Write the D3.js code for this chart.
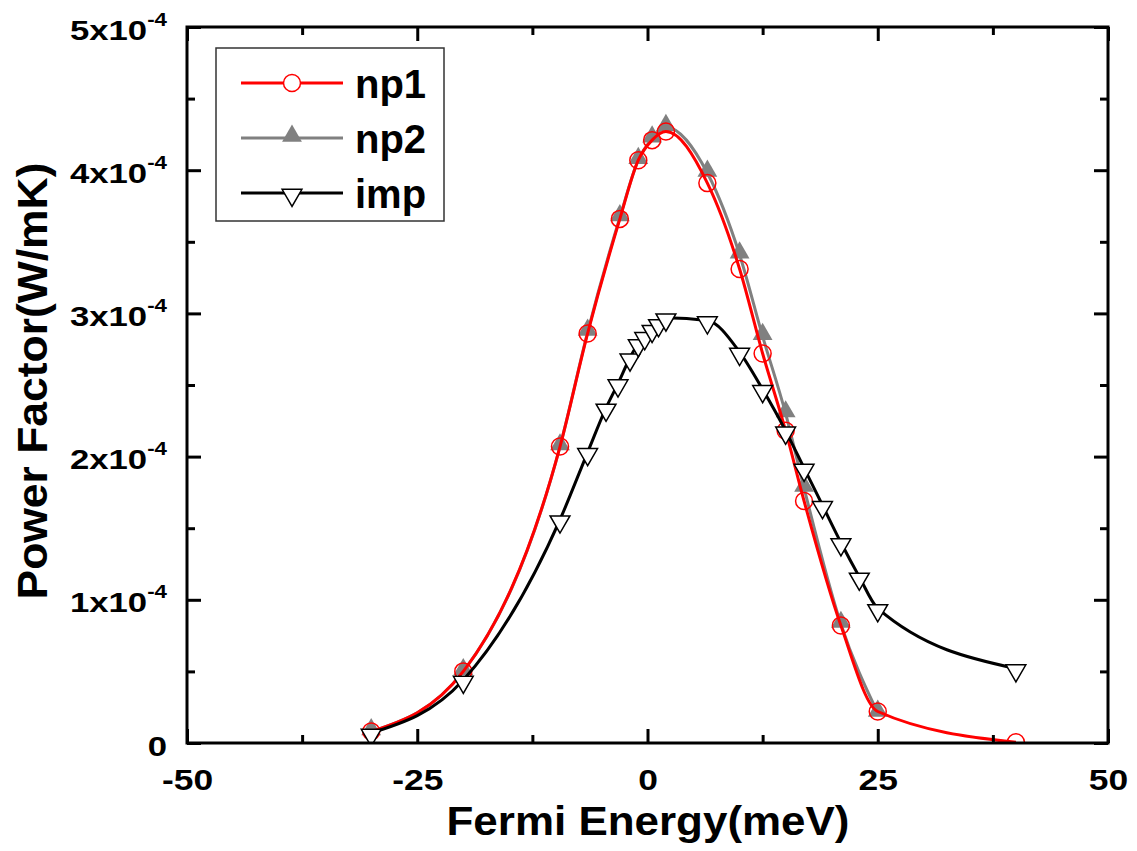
<!DOCTYPE html>
<html>
<head>
<meta charset="utf-8">
<script src="https://cdn.jsdelivr.net/npm/d3@7"></script>
<style>
  body { margin: 0; background: #fff; }
  text { font-family: Arial, "Liberation Sans", sans-serif; font-weight: bold; fill: #000; }
</style>
</head>
<body>
<div class="chart"></div>
<script>
"use strict"
// data (x in meV, y in W/mK)
const np1X = [-30, -20, -9.5, -6.5, -3, -1, 0.5, 2, 6.5, 10, 12.5, 15, 17, 21, 25, 40];
const np1Y = [0.08e-4, 0.5e-4, 2.07e-4, 2.86e-4, 3.66e-4, 4.07e-4, 4.21e-4, 4.27e-4, 3.91e-4, 3.31e-4, 2.72e-4, 2.18e-4, 1.69e-4, 0.82e-4, 0.22e-4, 0.005e-4];
const np2X = [-30, -20, -9.5, -6.5, -3, -1, 0.5, 2, 6.5, 10, 12.5, 15, 17, 21, 25];
const np2Y = [0.08e-4, 0.5e-4, 2.07e-4, 2.87e-4, 3.67e-4, 4.07e-4, 4.22e-4, 4.30e-4, 3.98e-4, 3.41e-4, 2.84e-4, 2.30e-4, 1.78e-4, 0.83e-4, 0.21e-4];
const impX = [-30, -20, -9.5, -6.5, -4.5, -3.2, -1.9, -1, -0.3, 0.5, 1.2, 2, 6.5, 10, 12.5, 15, 17, 19, 21, 23, 25, 40];
const impY = [0.07e-4, 0.44e-4, 1.56e-4, 2.03e-4, 2.34e-4, 2.51e-4, 2.69e-4, 2.79e-4, 2.84e-4, 2.89e-4, 2.93e-4, 2.97e-4, 2.95e-4, 2.73e-4, 2.47e-4, 2.18e-4, 1.92e-4, 1.66e-4, 1.40e-4, 1.16e-4, 0.94e-4, 0.52e-4];
const xTicks = [-50, -25, 0, 25, 50];
const xMinor = [-37.5, -12.5, 12.5, 37.5];
const yTicks = [0, 1, 2, 3, 4, 5];
const yMinor = [0.5, 1.5, 2.5, 3.5, 4.5];
const seriesNames = ["np1", "np2", "imp"];

const W = 1137, H = 851;
const m = { left: 187, right: 29, top: 27, bottom: 108 };

let svg = d3.select(".chart").append("svg")
  .attr("width", W).attr("height", H);

let x = d3.scaleLinear().domain([-50, 50]).range([m.left, W - m.right]);
let y = d3.scaleLinear().domain([0, 5e-4]).range([H - m.bottom, m.top]);

// widen text a bit, the original fonts run wider than Arial
function stretch(t, k) {
  t.each(function () {
    let w = this.getComputedTextLength();
    d3.select(this).attr("textLength", w * k).attr("lengthAdjust", "spacingAndGlyphs");
  });
}

svg.append("clipPath").attr("id", "clip")
  .append("rect")
  .attr("x", m.left).attr("y", m.top)
  .attr("width", W - m.left - m.right).attr("height", H - m.top - m.bottom);

let plot = svg.append("g").attr("clip-path", "url(#clip)");

function pts(xs, ys) { return xs.map((v, i) => [v, ys[i]]); }

let line = d3.line()
  .x(d => x(d[0])).y(d => y(d[1]))
  .curve(d3.curveMonotoneX);

let tri = d3.symbol().type(d3.symbolTriangle).size(170);

// np2 grey
plot.append("path").datum(pts(np2X, np2Y))
  .attr("d", line).attr("fill", "none")
  .attr("stroke", "#808080").attr("stroke-width", 3);
plot.selectAll(".np2").data(pts(np2X, np2Y)).enter()
  .append("path").attr("class", "np2")
  .attr("d", tri)
  .attr("transform", d => "translate(" + x(d[0]) + "," + (y(d[1]) - 2) + ")")
  .attr("fill", "#808080");

// np1 red
plot.append("path").datum(pts(np1X, np1Y))
  .attr("d", line).attr("fill", "none")
  .attr("stroke", "#ff0000").attr("stroke-width", 3);
plot.selectAll(".np1").data(pts(np1X, np1Y)).enter()
  .append("circle").attr("class", "np1")
  .attr("cx", d => x(d[0])).attr("cy", d => y(d[1]))
  .attr("r", 8.5)
  .attr("fill", "none").attr("stroke", "#ff0000").attr("stroke-width", 1.5);

// imp black
plot.append("path").datum(pts(impX, impY))
  .attr("d", line).attr("fill", "none")
  .attr("stroke", "#000").attr("stroke-width", 3);
plot.selectAll(".imp").data(pts(impX, impY)).enter()
  .append("path").attr("class", "imp")
  .attr("d", tri)
  .attr("transform", d => "translate(" + x(d[0]) + "," + (y(d[1]) + 2) + ") rotate(180)")
  .attr("fill", "#fff").attr("stroke", "#000").attr("stroke-width", 1.5);

// axes, ticks inward
function styleAxis(g) {
  g.select(".domain").remove();
  g.selectAll(".tick line").attr("stroke", "#000").attr("stroke-width", 3);
  g.selectAll("text").attr("font-size", 30);
}

let xb = svg.append("g").attr("transform", "translate(0," + (H - m.bottom) + ")")
  .call(d3.axisBottom(x).tickValues(xTicks).tickSize(-14).tickPadding(20).tickFormat(d => String(d)));
styleAxis(xb);
xb.selectAll("text").attr("y", 47).attr("dy", null);
stretch(xb.selectAll("text"), 1.18);
svg.append("g").attr("transform", "translate(0," + (H - m.bottom) + ")")
  .call(d3.axisBottom(x).tickValues(xMinor).tickSize(-8).tickFormat(""))
  .call(styleAxis);
svg.append("g").attr("transform", "translate(0," + m.top + ")")
  .call(d3.axisTop(x).tickValues(xTicks).tickSize(-14).tickFormat(""))
  .call(styleAxis);
svg.append("g").attr("transform", "translate(0," + m.top + ")")
  .call(d3.axisTop(x).tickValues(xMinor).tickSize(-8).tickFormat(""))
  .call(styleAxis);

let yl = svg.append("g").attr("transform", "translate(" + m.left + ",0)")
  .call(d3.axisLeft(y).tickValues(yTicks.map(v => v * 1e-4)).tickSize(-14).tickFormat(""))
  .call(styleAxis);
svg.append("g").attr("transform", "translate(" + m.left + ",0)")
  .call(d3.axisLeft(y).tickValues(yMinor.map(v => v * 1e-4)).tickSize(-8).tickFormat(""))
  .call(styleAxis);
svg.append("g").attr("transform", "translate(" + (W - m.right) + ",0)")
  .call(d3.axisRight(y).tickValues(yTicks.map(v => v * 1e-4)).tickSize(-14).tickFormat(""))
  .call(styleAxis);
svg.append("g").attr("transform", "translate(" + (W - m.right) + ",0)")
  .call(d3.axisRight(y).tickValues(yMinor.map(v => v * 1e-4)).tickSize(-8).tickFormat(""))
  .call(styleAxis);

// y tick labels with superscript, widened with a scale
const ys = 1.24;
yl.selectAll(".tick").each(function (d) {
  let n = Math.round(d * 1e4);
  let t = d3.select(this).append("text")
    .attr("transform", "scale(" + ys + ",1)")
    .attr("x", -20 / ys).attr("y", 12)
    .attr("text-anchor", "end").attr("font-size", 28);
  if (n === 0) {
    t.text("0");
  } else {
    t.append("tspan").text(n + "x10");
    t.append("tspan").attr("dy", -14).attr("font-size", 18).text("-4");
  }
});

// frame
svg.append("rect")
  .attr("x", m.left).attr("y", m.top)
  .attr("width", W - m.left - m.right).attr("height", H - m.top - m.bottom)
  .attr("fill", "none").attr("stroke", "#000").attr("stroke-width", 3);

// axis titles
svg.append("text")
  .attr("x", 648).attr("y", 835)
  .attr("text-anchor", "middle").attr("font-size", 40)
  .attr("textLength", 403).attr("lengthAdjust", "spacingAndGlyphs")
  .text("Fermi Energy(meV)");
svg.append("text")
  .attr("transform", "translate(47,381) rotate(-90)")
  .attr("text-anchor", "middle").attr("font-size", 43)
  .attr("textLength", 437).attr("lengthAdjust", "spacingAndGlyphs")
  .text("Power Factor(W/mK)");

// legend
let lg = svg.append("g");
lg.append("rect")
  .attr("x", 216).attr("y", 48).attr("width", 228).attr("height", 173)
  .attr("fill", "#fff").attr("stroke", "#333").attr("stroke-width", 1.5);
let ly = [83, 138, 193];
let lcol = ["#ff0000", "#808080", "#000"];
seriesNames.forEach(function (s, i) {
  lg.append("line")
    .attr("x1", 241).attr("x2", 343).attr("y1", ly[i]).attr("y2", ly[i])
    .attr("stroke", lcol[i]).attr("stroke-width", 3);
  if (i === 0) {
    lg.append("circle").attr("cx", 292).attr("cy", ly[i]).attr("r", 8.5)
      .attr("fill", "#fff").attr("stroke", "#ff0000").attr("stroke-width", 1.5);
  } else if (i === 1) {
    lg.append("path").attr("d", tri)
      .attr("transform", "translate(292," + (ly[i] - 2) + ")")
      .attr("fill", "#808080");
  } else {
    lg.append("path").attr("d", tri)
      .attr("transform", "translate(292," + (ly[i] + 2) + ") rotate(180)")
      .attr("fill", "#fff").attr("stroke", "#000").attr("stroke-width", 1.5);
  }
  lg.append("text")
    .attr("x", 355).attr("y", ly[i] + 15)
    .attr("font-size", 40)
    .text(s);
});
</script>
</body>
</html>
